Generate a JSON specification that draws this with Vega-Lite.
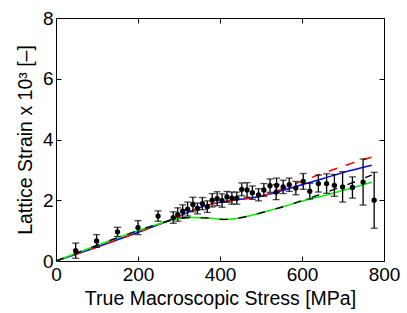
{
  "$schema": "https://vega.github.io/schema/vega-lite/v6.json",
  "width": 328,
  "height": 243,
  "autosize": {"type": "none"},
  "padding": {"left": 56, "top": 18, "right": 23, "bottom": 52},
  "background": "white",
  "config": {
    "font": "Liberation Sans",
    "view": {"stroke": "black", "strokeWidth": 1},
    "axis": {
      "grid": false,
      "domainColor": "black",
      "tickColor": "black",
      "labelColor": "black",
      "titleColor": "black",
      "labelFontSize": 19,
      "titleFontSize": 19.5,
      "titleFontWeight": "normal",
      "tickSize": -5,
      "domainWidth": 1,
      "tickWidth": 1,
      "labelFont": "Liberation Sans",
      "titleFont": "Liberation Sans",
      "labelFlush": false,
      "labelOverlap": false
    }
  },
  "datasets": {
    "curves": [
      {"model": "blue", "stress": 0, "strain": 0},
      {"model": "blue", "stress": 280, "strain": 1.36},
      {"model": "blue", "stress": 300, "strain": 1.47},
      {"model": "blue", "stress": 330, "strain": 1.65},
      {"model": "blue", "stress": 360, "strain": 1.8},
      {"model": "blue", "stress": 400, "strain": 1.93},
      {"model": "blue", "stress": 450, "strain": 2.03},
      {"model": "blue", "stress": 500, "strain": 2.13},
      {"model": "blue", "stress": 550, "strain": 2.31},
      {"model": "blue", "stress": 600, "strain": 2.51},
      {"model": "blue", "stress": 650, "strain": 2.71},
      {"model": "blue", "stress": 700, "strain": 2.91},
      {"model": "blue", "stress": 770, "strain": 3.15},
      {"model": "red", "stress": 0, "strain": 0},
      {"model": "red", "stress": 280, "strain": 1.36},
      {"model": "red", "stress": 300, "strain": 1.47},
      {"model": "red", "stress": 330, "strain": 1.65},
      {"model": "red", "stress": 360, "strain": 1.8},
      {"model": "red", "stress": 400, "strain": 1.93},
      {"model": "red", "stress": 450, "strain": 2.03},
      {"model": "red", "stress": 500, "strain": 2.14},
      {"model": "red", "stress": 550, "strain": 2.36},
      {"model": "red", "stress": 600, "strain": 2.63},
      {"model": "red", "stress": 650, "strain": 2.88},
      {"model": "red", "stress": 700, "strain": 3.12},
      {"model": "red", "stress": 770, "strain": 3.42},
      {"model": "green", "stress": 0, "strain": 0},
      {"model": "green", "stress": 260, "strain": 1.26},
      {"model": "green", "stress": 280, "strain": 1.34},
      {"model": "green", "stress": 300, "strain": 1.4},
      {"model": "green", "stress": 330, "strain": 1.43},
      {"model": "green", "stress": 360, "strain": 1.42},
      {"model": "green", "stress": 385, "strain": 1.4},
      {"model": "green", "stress": 410, "strain": 1.37},
      {"model": "green", "stress": 430, "strain": 1.38},
      {"model": "green", "stress": 460, "strain": 1.45},
      {"model": "green", "stress": 490, "strain": 1.55},
      {"model": "green", "stress": 520, "strain": 1.66},
      {"model": "green", "stress": 560, "strain": 1.81},
      {"model": "green", "stress": 600, "strain": 1.97},
      {"model": "green", "stress": 650, "strain": 2.14},
      {"model": "green", "stress": 700, "strain": 2.32},
      {"model": "green", "stress": 770, "strain": 2.59},
      {"model": "black", "stress": 0, "strain": 0},
      {"model": "black", "stress": 260, "strain": 1.26},
      {"model": "black", "stress": 280, "strain": 1.34},
      {"model": "black", "stress": 300, "strain": 1.4},
      {"model": "black", "stress": 330, "strain": 1.43},
      {"model": "black", "stress": 360, "strain": 1.42},
      {"model": "black", "stress": 385, "strain": 1.4},
      {"model": "black", "stress": 410, "strain": 1.37},
      {"model": "black", "stress": 430, "strain": 1.38},
      {"model": "black", "stress": 460, "strain": 1.45},
      {"model": "black", "stress": 490, "strain": 1.55},
      {"model": "black", "stress": 520, "strain": 1.66},
      {"model": "black", "stress": 560, "strain": 1.81},
      {"model": "black", "stress": 600, "strain": 1.99},
      {"model": "black", "stress": 650, "strain": 2.22},
      {"model": "black", "stress": 700, "strain": 2.46},
      {"model": "black", "stress": 770, "strain": 2.83}
    ],
    "points": [
      {"stress": 48, "strain": 0.34, "lo": 0.09, "hi": 0.59},
      {"stress": 99, "strain": 0.66, "lo": 0.45, "hi": 0.87},
      {"stress": 150, "strain": 0.96, "lo": 0.81, "hi": 1.11},
      {"stress": 200, "strain": 1.1, "lo": 0.87, "hi": 1.33},
      {"stress": 249, "strain": 1.48, "lo": 1.31, "hi": 1.65},
      {"stress": 286, "strain": 1.43, "lo": 1.24, "hi": 1.62},
      {"stress": 297, "strain": 1.53, "lo": 1.31, "hi": 1.75},
      {"stress": 309, "strain": 1.64, "lo": 1.43, "hi": 1.85},
      {"stress": 321, "strain": 1.71, "lo": 1.48, "hi": 1.94},
      {"stress": 334, "strain": 1.86, "lo": 1.62, "hi": 2.1},
      {"stress": 345, "strain": 1.73, "lo": 1.55, "hi": 1.91},
      {"stress": 357, "strain": 1.89, "lo": 1.69, "hi": 2.09},
      {"stress": 369, "strain": 1.79, "lo": 1.6, "hi": 1.98},
      {"stress": 381, "strain": 2.0, "lo": 1.78, "hi": 2.22},
      {"stress": 393, "strain": 2.05, "lo": 1.82, "hi": 2.28},
      {"stress": 405, "strain": 1.99, "lo": 1.77, "hi": 2.21},
      {"stress": 417, "strain": 2.11, "lo": 1.93, "hi": 2.29},
      {"stress": 429, "strain": 2.07, "lo": 1.87, "hi": 2.27},
      {"stress": 441, "strain": 2.07, "lo": 1.87, "hi": 2.27},
      {"stress": 453, "strain": 2.36, "lo": 2.15, "hi": 2.57},
      {"stress": 466, "strain": 2.34, "lo": 2.1, "hi": 2.58},
      {"stress": 479, "strain": 2.25, "lo": 2.03, "hi": 2.47},
      {"stress": 494, "strain": 2.18, "lo": 1.98, "hi": 2.38},
      {"stress": 507, "strain": 2.34, "lo": 2.13, "hi": 2.55},
      {"stress": 522, "strain": 2.48, "lo": 2.26, "hi": 2.7},
      {"stress": 537, "strain": 2.27, "lo": 2.02, "hi": 2.52},
      {"stress": 538, "strain": 2.49, "lo": 2.25, "hi": 2.73},
      {"stress": 554, "strain": 2.44, "lo": 2.22, "hi": 2.66},
      {"stress": 569, "strain": 2.51, "lo": 2.29, "hi": 2.73},
      {"stress": 585, "strain": 2.4, "lo": 2.18, "hi": 2.62},
      {"stress": 603, "strain": 2.62, "lo": 2.36, "hi": 2.88},
      {"stress": 619, "strain": 2.3, "lo": 2.04, "hi": 2.56},
      {"stress": 640, "strain": 2.55, "lo": 2.27, "hi": 2.83},
      {"stress": 660, "strain": 2.55, "lo": 2.23, "hi": 2.87},
      {"stress": 679, "strain": 2.49, "lo": 2.13, "hi": 2.85},
      {"stress": 699, "strain": 2.44, "lo": 1.94, "hi": 2.94},
      {"stress": 723, "strain": 2.42, "lo": 2.07, "hi": 2.77},
      {"stress": 749, "strain": 2.6, "lo": 1.84, "hi": 3.36},
      {"stress": 776, "strain": 2.0, "lo": 1.08, "hi": 2.92}
    ]
  },
  "layer": [
    {
      "data": {"name": "curves"},
      "transform": [{"filter": "datum.model == 'blue'"}],
      "mark": {"type": "line", "color": "#0000ff", "strokeWidth": 1.5, "interpolate": "monotone"},
      "encoding": {
        "x": {"field": "stress", "type": "quantitative", "scale": {"domain": [0, 800], "nice": false},
          "axis": {"orient": "bottom", "values": [0, 200, 400, 600, 800], "title": "True Macroscopic Stress [MPa]", "labelPadding": 9, "titlePadding": 5}},
        "y": {"field": "strain", "type": "quantitative", "scale": {"domain": [0, 8], "nice": false},
          "axis": {"orient": "left", "values": [0, 2, 4, 6, 8], "title": "Lattice Strain x 10³ [–]", "labelPadding": 8, "titlePadding": 7}}
      }
    },
    {
      "data": {"name": "curves"},
      "transform": [{"filter": "datum.model == 'red'"}],
      "mark": {"type": "line", "color": "#ff0000", "strokeWidth": 1.5, "strokeDash": [9, 9], "interpolate": "monotone"},
      "encoding": {
        "x": {"field": "stress", "type": "quantitative", "scale": {"domain": [0, 800], "nice": false}, "axis": null},
        "y": {"field": "strain", "type": "quantitative", "scale": {"domain": [0, 8], "nice": false}, "axis": null}
      }
    },
    {
      "data": {"name": "curves"},
      "transform": [{"filter": "datum.model == 'green'"}],
      "mark": {"type": "line", "color": "#00f000", "strokeWidth": 1.5, "interpolate": "monotone"},
      "encoding": {
        "x": {"field": "stress", "type": "quantitative", "scale": {"domain": [0, 800], "nice": false}, "axis": null},
        "y": {"field": "strain", "type": "quantitative", "scale": {"domain": [0, 8], "nice": false}, "axis": null}
      }
    },
    {
      "data": {"name": "curves"},
      "transform": [{"filter": "datum.model == 'black'"}],
      "mark": {"type": "line", "color": "#000000", "strokeWidth": 1.4, "strokeDash": [8, 11], "interpolate": "monotone"},
      "encoding": {
        "x": {"field": "stress", "type": "quantitative", "scale": {"domain": [0, 800], "nice": false}, "axis": null},
        "y": {"field": "strain", "type": "quantitative", "scale": {"domain": [0, 8], "nice": false}, "axis": null}
      }
    },
    {
      "data": {"name": "points"},
      "mark": {"type": "rule", "color": "black", "strokeWidth": 1.3},
      "encoding": {
        "x": {"field": "stress", "type": "quantitative", "scale": {"domain": [0, 800], "nice": false}, "axis": null},
        "y": {"field": "lo", "type": "quantitative", "scale": {"domain": [0, 8], "nice": false}, "axis": null},
        "y2": {"field": "hi"}
      }
    },
    {
      "data": {"name": "points"},
      "mark": {"type": "tick", "color": "black", "orient": "horizontal", "size": 7, "thickness": 1.3},
      "encoding": {
        "x": {"field": "stress", "type": "quantitative", "scale": {"domain": [0, 800], "nice": false}, "axis": null},
        "y": {"field": "lo", "type": "quantitative", "scale": {"domain": [0, 8], "nice": false}, "axis": null}
      }
    },
    {
      "data": {"name": "points"},
      "mark": {"type": "tick", "color": "black", "orient": "horizontal", "size": 7, "thickness": 1.3},
      "encoding": {
        "x": {"field": "stress", "type": "quantitative", "scale": {"domain": [0, 800], "nice": false}, "axis": null},
        "y": {"field": "hi", "type": "quantitative", "scale": {"domain": [0, 8], "nice": false}, "axis": null}
      }
    },
    {
      "data": {"name": "points"},
      "mark": {"type": "point", "filled": true, "color": "black", "opacity": 1, "size": 28},
      "encoding": {
        "x": {"field": "stress", "type": "quantitative", "scale": {"domain": [0, 800], "nice": false},
          "axis": {"orient": "top", "values": [0, 200, 400, 600, 800], "labels": false, "title": null}},
        "y": {"field": "strain", "type": "quantitative", "scale": {"domain": [0, 8], "nice": false},
          "axis": {"orient": "right", "values": [0, 2, 4, 6, 8], "labels": false, "title": null}}
      }
    }
  ],
  "resolve": {"axis": {"x": "independent", "y": "independent"}}
}
